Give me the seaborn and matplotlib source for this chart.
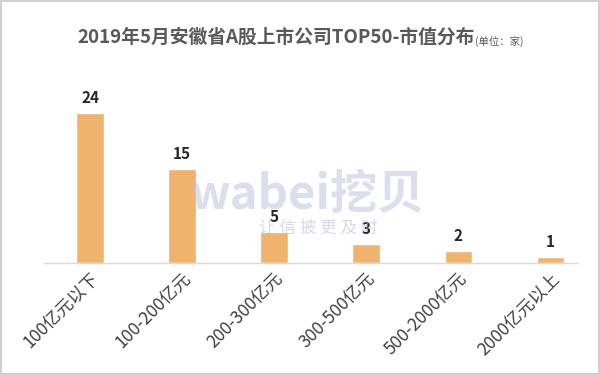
import matplotlib
matplotlib.use("Agg")
import matplotlib.pyplot as plt
import seaborn as sns
import pandas as pd

# data
categories = ["100亿元以下", "100-200亿元", "200-300亿元", "300-500亿元", "500-2000亿元", "2000亿元以上"]
counts = [24, 15, 5, 3, 2, 1]
title_main = "2019年5月安徽省A股上市公司TOP50-市值分布"
title_unit = "(单位：家)"

sns.set_theme(style="white")
plt.rcParams['font.family'] = ['Noto Sans CJK SC', 'DejaVu Sans']

df = pd.DataFrame({"cat": categories, "n": counts})

fig = plt.figure(figsize=(6, 3.75), dpi=100)
ax = fig.add_axes([44 / 600, 1 - 263 / 375, 534 / 600, 175 / 375])

sns.barplot(data=df, x="cat", y="n", color="#F0B36D", width=0.30, saturation=1, ax=ax)

ax.set_xlim(-0.5, 5.3)
ax.set_ylim(0, 28)
ax.set_xlabel("")
ax.set_ylabel("")
ax.set_yticks([])
for s in ["top", "left", "right"]:
    ax.spines[s].set_visible(False)
ax.spines["bottom"].set_color("#d9d9d9")
ax.spines["bottom"].set_linewidth(1)
ax.tick_params(axis="x", length=0, pad=5)
ax.set_xticks(range(len(categories)))
ax.set_xticklabels(categories, rotation=45, ha="right", rotation_mode="anchor",
                   fontsize=12.5, color="#404040")

for i, v in enumerate(counts):
    ax.text(i, v + 1.1, str(v), ha="center", va="bottom", fontsize=11,
            fontweight="bold", color="#262626")

# watermark
fig.text(0.512, 0.48, "wabei挖贝", fontsize=34, color="#b8c0dd", alpha=0.5,
         ha="center", va="center", fontweight="bold")
fig.text(0.53, 0.392, "让 信 披 更 及 时", fontsize=12, color="#b8c0dd", alpha=0.6,
         ha="center", va="center")

# title (main part + small unit, centred together)
t1 = fig.text(0, 0.9, title_main, fontsize=13.5, fontweight="bold",
              color="#595959", ha="left", va="center")
t2 = fig.text(0, 0.89, title_unit, fontsize=7.5, color="#595959",
              ha="left", va="center")
fig.canvas.draw()
w1 = t1.get_window_extent().width
w2 = t2.get_window_extent().width
x0 = (600 - w1 - w2) / 2
t1.set_x(x0 / 600)
t2.set_x((x0 + w1 + 1) / 600)

# border
fig.patches.append(plt.Rectangle((0.002, 0.003), 0.996, 0.994, transform=fig.transFigure,
                                 fill=False, edgecolor="#d0d0d0", linewidth=1.5))

fig.savefig("out.png", dpi=100)
